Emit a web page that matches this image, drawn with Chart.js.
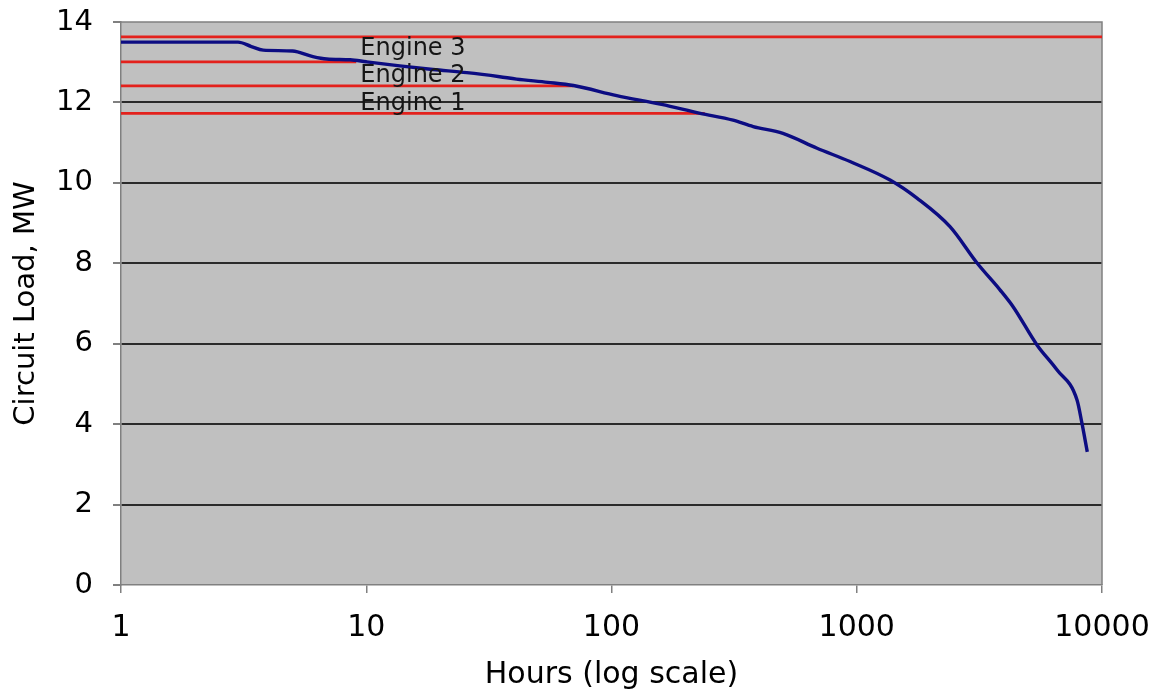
<!DOCTYPE html>
<html>
<head>
<meta charset="utf-8">
<script src="https://cdn.jsdelivr.net/npm/chart.js@4/dist/chart.umd.min.js"></script>
<style>
  html, body { margin: 0; padding: 0; background: #ffffff; }
  #wrap { width: 1156px; height: 698px; }
</style>
</head>
<body>
<div id="wrap"><canvas id="c" width="1156" height="698"></canvas></div>
<script>
// ---- Data ----
const hours = [1, 2, 3.0, 3.4, 3.8, 5.0, 6.06, 6.9, 8.6, 10, 13.7, 18.7, 25.7, 35, 41, 55, 70, 105, 160, 230, 313, 378, 500, 689, 939, 1367, 1760, 2400, 3100, 3837, 4340, 5430, 6550, 7910, 8280, 8710];
const loadMW = [13.50, 13.50, 13.50, 13.39, 13.30, 13.28, 13.14, 13.08, 13.06, 13.01, 12.91, 12.82, 12.74, 12.64, 12.58, 12.50, 12.42, 12.17, 11.95, 11.73, 11.56, 11.40, 11.23, 10.86, 10.53, 10.07, 9.62, 8.91, 8.00, 7.34, 6.92, 5.97, 5.35, 4.60, 4.03, 3.31];

const engineLevels = [13.63, 13.01, 12.41, 11.73];      // MW
const engineLineEnds = [10000, 9.1, 70, 240];            // hours
const engineNames = ['Engine 3', 'Engine 2', 'Engine 1'];
const engineLabelHours = [15.5, 15.5, 15.5];
const engineLabelMW = [13.18, 12.51, 11.81];

const xTickValues = [1, 10, 100, 1000, 10000];
const yMin = 0, yMax = 14, yStep = 2;

const xTitle = 'Hours (log scale)';
const yTitle = 'Circuit Load, MW';

// ---- Build datasets ----
const curve = hours.map((h, i) => ({ x: h, y: loadMW[i] }));
const redSets = engineLevels.map((lvl, i) => ({
  data: [{ x: 1, y: lvl }, { x: engineLineEnds[i], y: lvl }],
  borderColor: '#e3211c',
  borderWidth: 2.8,
  pointRadius: 0,
  tension: 0,
  order: 2
}));

const FONT = "'DejaVu Sans', Verdana, sans-serif";

const bgPlugin = {
  id: 'bg',
  beforeDraw(chart) {
    const { ctx, chartArea: a } = chart;
    ctx.save();
    ctx.fillStyle = '#c0c0c0';
    ctx.fillRect(a.left, a.top, a.right - a.left, a.bottom - a.top);
    ctx.restore();
  },
  beforeDatasetsDraw(chart) {
    const { ctx, chartArea: a } = chart;
    ctx.save();
    ctx.strokeStyle = '#808080';
    ctx.lineWidth = 1.5;
    ctx.beginPath();
    ctx.moveTo(a.left, a.top);
    ctx.lineTo(a.right, a.top);
    ctx.lineTo(a.right, a.bottom);
    ctx.stroke();
    ctx.restore();
  },
  afterDatasetsDraw(chart) {
    const { ctx } = chart;
    const xs = chart.scales.x, ys = chart.scales.y;
    ctx.save();
    ctx.fillStyle = '#151515';
    ctx.font = '24px ' + FONT;
    ctx.textAlign = 'center';
    ctx.textBaseline = 'alphabetic';
    engineNames.forEach((n, i) => {
      ctx.fillText(n, xs.getPixelForValue(engineLabelHours[i]), ys.getPixelForValue(engineLabelMW[i]));
    });
    ctx.restore();
  }
};

new Chart(document.getElementById('c'), {
  type: 'line',
  data: {
    datasets: [
      ...redSets,
      {
        data: curve,
        borderColor: '#0c0c82',
        borderWidth: 3.4,
        pointRadius: 0,
        cubicInterpolationMode: 'monotone',
        order: 1
      }
    ]
  },
  options: {
    responsive: false,
    animation: false,
    layout: { padding: { top: 22, right: 54, left: 0, bottom: 0 } },
    plugins: { legend: { display: false }, tooltip: { enabled: false } },
    scales: {
      x: {
        type: 'logarithmic',
        min: 1,
        max: 10000,
        afterBuildTicks(scale) {
          scale.ticks = xTickValues.map(v => ({ value: v, major: true }));
        },
        afterFit(scale) {
          scale.height = 113;
          scale.paddingLeft = 0; scale.paddingRight = 0;
        },
        ticks: {
          callback: (v) => String(v),
          color: '#000',
          font: { family: FONT, size: 30 },
          padding: 17,
          maxRotation: 0,
          autoSkip: false
        },
        grid: {
          drawOnChartArea: false,
          drawTicks: true,
          tickLength: 8,
          color: '#808080',
          lineWidth: 1.5
        },
        border: { display: true, color: '#808080', width: 1.5 },
        title: {
          display: true,
          text: xTitle,
          color: '#000',
          font: { family: FONT, size: 30 },
          padding: { top: 0, bottom: 5 }
        }
      },
      y: {
        min: yMin,
        max: yMax,
        afterFit(scale) {
          scale.width = 121;
          scale.paddingTop = 0; scale.paddingBottom = 0;
        },
        ticks: {
          stepSize: yStep,
          color: '#000',
          font: { family: FONT, size: 29 },
          padding: 20
        },
        grid: {
          color: (ctx) => (ctx.tick && (ctx.tick.value === yMin || ctx.tick.value === yMax)) ? 'rgba(0,0,0,0)' : '#2a2a2a',
          lineWidth: 2,
          tickColor: '#808080',
          tickLength: 8,
          drawTicks: true
        },
        border: { display: true, color: '#808080', width: 1.5 },
        title: {
          display: true,
          text: yTitle,
          color: '#000',
          font: { family: FONT, size: 29 },
          padding: { top: 9, bottom: 0 }
        }
      }
    }
  },
  plugins: [bgPlugin]
});
</script>
</body>
</html>
